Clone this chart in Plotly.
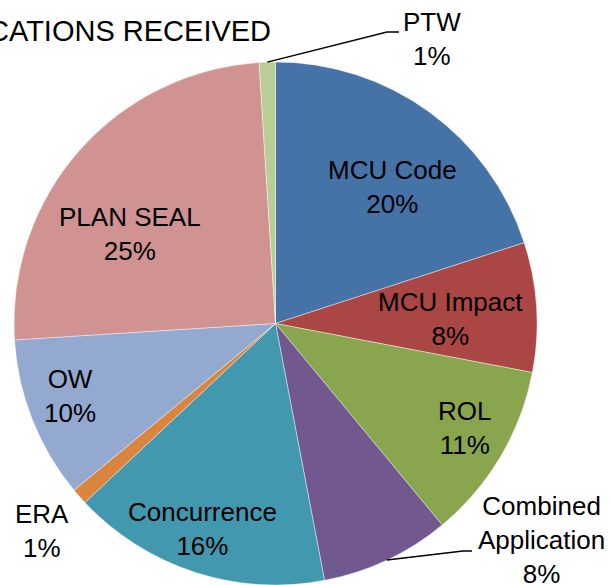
import math
import plotly.graph_objects as go

# data
labels = ["MCU Code", "MCU Impact", "ROL", "Combined<br>Application", "Concurrence",
          "ERA", "OW", "PLAN SEAL", "PTW"]
values = [20, 8, 11, 8, 16, 1, 10, 25, 1]
title_text = "CATIONS RECEIVED"

colors = ["#4572A7", "#AA4643", "#89A54E", "#71588F", "#4198AF",
          "#DB843D", "#93A9CF", "#D19392", "#B9CD96"]

W, H = 609, 585
CX, CY, R = 275.5, 323.5, 261.5
FONT = "Arial, Liberation Sans, sans-serif"

# label centres in pixels (Excel's "best fit" placement)
label_pos = [(392, 187), (450, 319), (464, 428), (541, 540), (202, 529),
             (42, 531), (70, 396), (130, 234), (432, 39)]
# leader lines for outside labels: index -> knee points in pixels
leaders = {8: [(387, 32), (399, 32)], 3: [(463, 551), (472, 551)]}


def px(x):
    return x / W


def py(y):
    return 1 - y / H


total = sum(values)

fig = go.Figure(go.Pie(
    labels=labels,
    values=values,
    sort=False,
    direction="clockwise",
    rotation=0,
    textinfo="none",
    marker=dict(colors=colors, line=dict(color="rgba(255,255,255,0.6)", width=0.7)),
    domain=dict(x=[px(CX - R), px(CX + R)], y=[py(CY + R), py(CY - R)]),
    showlegend=False,
))

# slice labels
cum = 0
for i, (lab, v) in enumerate(zip(labels, values)):
    pct = round(100 * v / total)
    x, y = label_pos[i]
    fig.add_annotation(x=px(x), y=py(y), xref="paper", yref="paper",
                       text=f"{lab}<br>{pct}%", showarrow=False,
                       xanchor="center", yanchor="middle",
                       font=dict(family=FONT, size=26, color="black"))
    mid = (cum + v / 2) / total * 2 * math.pi
    if i in leaders:
        pts = [(CX + R * math.sin(mid), CY - R * math.cos(mid))] + leaders[i]
        path = "M " + " L ".join(f"{px(a)} {py(b)}" for a, b in pts)
        fig.add_shape(type="path", path=path, xref="paper", yref="paper",
                      line=dict(color="black", width=1.5))
    cum += v

# title (cut off at the left edge in the reference)
fig.add_annotation(x=px(273), y=py(31), xref="paper", yref="paper",
                   text=title_text, showarrow=False, xanchor="right", yanchor="middle",
                   font=dict(family=FONT, size=29, color="black"))

fig.update_layout(
    width=W, height=H,
    margin=dict(l=0, r=0, t=0, b=0),
    paper_bgcolor="white",
    plot_bgcolor="white",
)

# drop the browser's default body margin so the figure sits at the page corner
fig.write_html("out.html", config={"displayModeBar": False},
               post_script="document.body.style.margin='0';")
